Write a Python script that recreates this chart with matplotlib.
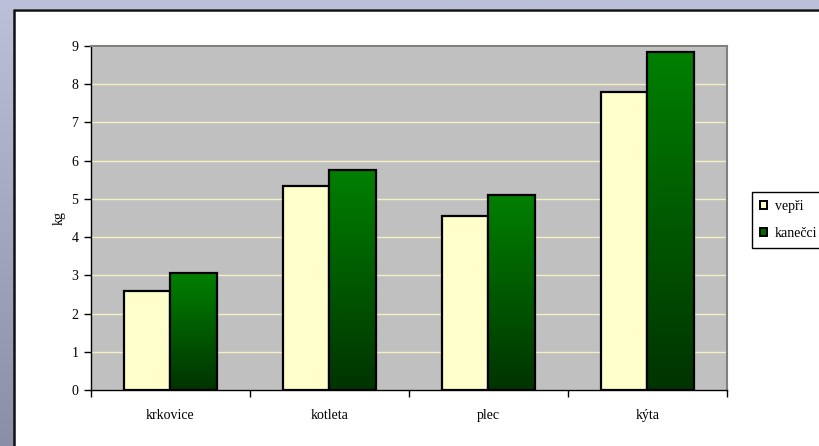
import matplotlib.pyplot as plt
import numpy as np
from matplotlib.colors import LinearSegmentedColormap
from matplotlib.patches import Rectangle, Patch

categories = ['krkovice', 'kotleta', 'plec', 'kýta']
vepri = [2.6, 5.35, 4.55, 7.8]
kanecci = [3.05, 5.75, 5.1, 8.85]
series_labels = ['vepři', 'kanečci']
yticks = [0, 1, 2, 3, 4, 5, 6, 7, 8, 9]

plt.rcParams['font.family'] = ['Liberation Serif', 'DejaVu Serif']
FS = 10

W, H = 820, 446
fig = plt.figure(figsize=(W / 100, H / 100), dpi=100)

# slide background: bluish strip on the left and top, white chart area on top
bg = fig.add_axes([0, 0, 1, 1], zorder=0)
bg.set_axis_off()
grad = np.linspace(0, 1, 256).reshape(-1, 1)
slide_cmap = LinearSegmentedColormap.from_list('slide', ['#bcc1d9', '#8a8ea6'])
bg.imshow(grad, cmap=slide_cmap, aspect='auto', extent=[0, W, H, 0])
bg.set_xlim(0, W)
bg.set_ylim(H, 0)
bg.add_patch(Rectangle((14, 9), W - 14, H - 9, facecolor='white', edgecolor='none'))
bg.plot([14.5, 14.5], [H, 9], color='#111111', lw=1.8, solid_capstyle='butt')
bg.plot([14, W], [9.5, 9.5], color='#111111', lw=1.8, solid_capstyle='butt')

left, right, top, bottom = 91, 727, 46, 390
ax = fig.add_axes([left / W, 1 - bottom / H, (right - left) / W, (bottom - top) / H], zorder=1)
ax.set_facecolor('#c0c0c0')

x = np.arange(len(categories)) + 0.5
bw = 0.29
green_cmap = LinearSegmentedColormap.from_list('green', ['#003300', '#008000'])

for i in range(len(categories)):
    x0 = x[i] - bw
    ax.bar(x0, vepri[i], width=bw, align='edge', color='#ffffcc',
           edgecolor='black', linewidth=1.6, zorder=3)
    # vertical gradient clipped to the bar rectangle
    ax.imshow(grad[::-1], cmap=green_cmap, aspect='auto', zorder=3,
              extent=[x[i], x[i] + bw, 0, kanecci[i]], interpolation='bilinear')
    ax.bar(x[i], kanecci[i], width=bw, align='edge', color='none',
           edgecolor='black', linewidth=1.6, zorder=4)

ax.set_xlim(0, len(categories))
ax.set_ylim(0, 9)
ax.set_yticks(yticks)
ax.set_xticks(np.arange(len(categories) + 1))
ax.set_xticklabels([])
ax.set_xticks(x, minor=True)
ax.set_xticklabels(categories, minor=True)
ax.tick_params(axis='x', which='minor', length=0, pad=14, labelsize=FS)
ax.tick_params(axis='x', which='major', length=5, width=1, direction='out')
ax.tick_params(axis='y', length=5, width=1, direction='out', labelsize=FS, pad=4)
ax.yaxis.grid(True, color='#f4f0c4', linewidth=1)
ax.set_axisbelow(True)

for s in ['top', 'right']:
    ax.spines[s].set_color('#808080')
    ax.spines[s].set_linewidth(1.5)
for s in ['left', 'bottom']:
    ax.spines[s].set_color('black')
    ax.spines[s].set_linewidth(1)

ax.set_ylabel('kg', fontsize=FS, labelpad=4)

handles = [Patch(facecolor='#ffffcc', edgecolor='black', linewidth=1.4),
           Patch(facecolor='#006400', edgecolor='black', linewidth=1.4)]
fig.legend(handles, series_labels, loc='upper left',
           bbox_to_anchor=(752 / W, 1 - 192 / H), fontsize=FS,
           frameon=True, fancybox=False, edgecolor='black', framealpha=1,
           handlelength=0.5, handleheight=0.5, handletextpad=0.6,
           labelspacing=1.05, borderpad=0.55, borderaxespad=0)

fig.savefig('out.png', dpi=100)
